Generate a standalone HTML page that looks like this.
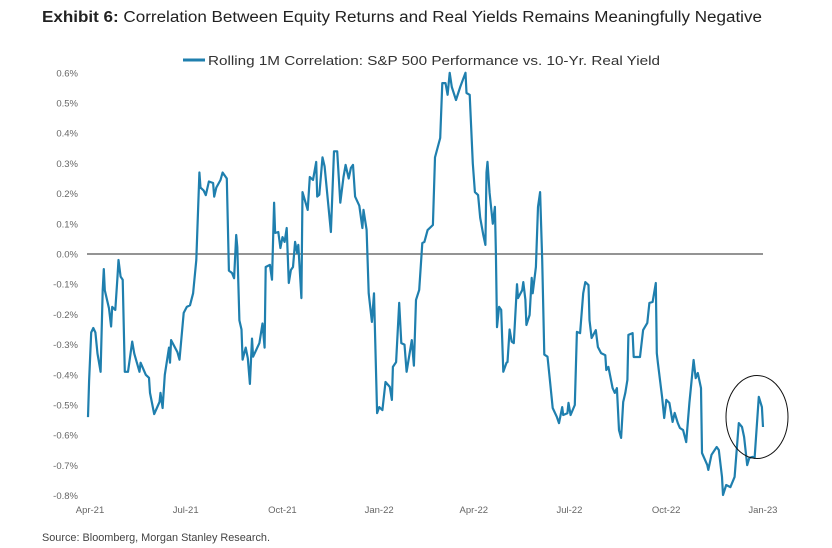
<!DOCTYPE html>
<html><head><meta charset="utf-8"><style>
html,body{margin:0;padding:0;background:#fff;}
svg{display:block;font-family:"Liberation Sans",sans-serif;}
</style></head><body>
<svg id="chart" width="832" height="548" viewBox="0 0 832 548">
<text x="42" y="22" font-size="15.5" fill="#222" textLength="720" lengthAdjust="spacingAndGlyphs"><tspan font-weight="bold">Exhibit 6:</tspan>  Correlation Between Equity Returns and Real Yields Remains Meaningfully Negative</text>
<g>
<line x1="183" y1="60" x2="205" y2="60" stroke="#1f7fae" stroke-width="3"/>
<text x="208" y="65" font-size="13" fill="#333" textLength="452" lengthAdjust="spacingAndGlyphs">Rolling 1M Correlation: S&amp;P 500 Performance vs. 10-Yr. Real Yield</text>
</g>
<g id="yaxis"></g>
<g id="xaxis"></g>
<line x1="87" y1="254" x2="763" y2="254" stroke="#555" stroke-width="1.2"/>
<path id="series" fill="none" stroke="#1f7fae" stroke-width="2.2" stroke-linejoin="round"/>
<ellipse cx="757" cy="417" rx="31" ry="41.5" fill="none" stroke="#111" stroke-width="1"/>
<text x="42" y="541" font-size="11" fill="#444" textLength="228" lengthAdjust="spacingAndGlyphs">Source: Bloomberg, Morgan Stanley Research.</text>
</svg>
<script>
const yTicks = [0.6,0.5,0.4,0.3,0.2,0.1,0.0,-0.1,-0.2,-0.3,-0.4,-0.5,-0.6,-0.7,-0.8];
const xTickLabels = ["Apr-21","Jul-21","Oct-21","Jan-22","Apr-22","Jul-22","Oct-22","Jan-23"];
const xTickDays = [0,91,183,275,365,456,548,640];
const days = [0,1,3,5,7,9,12,14,15,16,20,22,23,26,28,29,31,33,35,38,42,44,49,50,55,58,59,63,68,69,71,73,77,78,79,85,87,91,94,97,100,103,106,107,110,112,115,119,120,122,126,128,132,134,137,139,141,142,144,146,147,150,152,154,156,157,163,166,168,169,173,175,177,178,181,183,185,187,189,191,193,195,197,199,200,203,204,209,211,214,217,218,220,223,225,231,234,237,240,243,245,248,250,252,254,258,261,262,265,267,270,272,275,277,280,283,287,289,290,293,296,298,301,303,308,310,312,315,318,320,323,328,330,335,337,340,342,344,346,350,354,359,360,363,366,368,371,373,376,378,379,380,382,385,387,388,389,391,393,395,398,399,401,403,405,408,409,413,414,416,417,420,422,423,426,428,430,432,434,437,439,442,446,448,451,452,456,457,459,463,465,468,471,473,476,477,479,483,485,488,492,493,495,499,501,503,505,507,509,511,513,514,518,519,525,528,532,534,537,540,541,542,546,548,550,553,556,558,561,563,566,569,572,576,578,580,583,584,589,590,593,598,600,603,604,607,611,615,619,622,624,627,629,632,634,638,641,642];
const values = [-0.54,-0.42,-0.26,-0.245,-0.26,-0.33,-0.39,-0.12,-0.05,-0.12,-0.18,-0.24,-0.175,-0.185,-0.08,-0.02,-0.075,-0.085,-0.39,-0.39,-0.29,-0.33,-0.39,-0.36,-0.40,-0.41,-0.46,-0.53,-0.49,-0.46,-0.51,-0.40,-0.31,-0.36,-0.285,-0.325,-0.35,-0.195,-0.175,-0.17,-0.13,-0.02,0.27,0.22,0.21,0.195,0.24,0.235,0.19,0.22,0.245,0.27,0.25,-0.055,-0.063,-0.08,0.063,0.023,-0.22,-0.25,-0.35,-0.31,-0.345,-0.43,-0.28,-0.34,-0.295,-0.23,-0.31,-0.043,-0.036,-0.085,0.17,0.07,0.073,0.02,0.056,0.04,0.086,-0.096,-0.053,-0.043,0.04,0.003,0.03,-0.146,0.205,0.146,0.255,0.245,0.305,0.19,0.196,0.32,0.29,0.073,0.34,0.34,0.17,0.255,0.295,0.25,0.285,0.295,0.19,0.16,0.086,0.146,0.08,-0.13,-0.225,-0.13,-0.527,-0.507,-0.517,-0.424,-0.44,-0.483,-0.374,-0.358,-0.162,-0.295,-0.30,-0.39,-0.285,-0.37,-0.152,-0.119,0.036,0.04,0.079,0.096,0.32,0.384,0.566,0.566,0.527,0.60,0.553,0.51,0.553,0.60,0.533,0.527,0.30,0.205,0.195,0.12,0.063,0.03,0.27,0.305,0.202,0.10,0.156,0.003,-0.242,-0.175,-0.185,-0.39,-0.36,-0.358,-0.25,-0.29,-0.295,-0.10,-0.146,-0.12,-0.093,-0.152,-0.235,-0.202,-0.079,-0.13,-0.043,0.156,0.205,-0.02,-0.333,-0.34,-0.408,-0.51,-0.54,-0.56,-0.507,-0.533,-0.527,-0.493,-0.533,-0.50,-0.258,-0.262,-0.13,-0.093,-0.103,-0.219,-0.278,-0.252,-0.308,-0.328,-0.335,-0.384,-0.374,-0.444,-0.46,-0.444,-0.583,-0.609,-0.49,-0.46,-0.417,-0.268,-0.262,-0.341,-0.341,-0.252,-0.228,-0.162,-0.159,-0.096,-0.328,-0.361,-0.474,-0.543,-0.483,-0.493,-0.556,-0.526,-0.56,-0.576,-0.583,-0.623,-0.493,-0.351,-0.411,-0.394,-0.444,-0.659,-0.699,-0.715,-0.665,-0.639,-0.649,-0.738,-0.798,-0.765,-0.772,-0.738,-0.56,-0.573,-0.606,-0.699,-0.675,-0.672,-0.675,-0.473,-0.507,-0.573];

const NS = "http://www.w3.org/2000/svg";
const X0 = 88, X1 = 763, DMAX = 642;
const Y0 = 254, PX_PER_UNIT = 302;
function xScale(d){ return X0 + d * (X1 - X0) / DMAX; }
function yScale(v){ return Y0 - v * PX_PER_UNIT; }

const yg = document.getElementById('yaxis');
yTicks.forEach(v => {
  const t = document.createElementNS(NS, 'text');
  
  
  t.setAttribute('x', 78);
  t.setAttribute('y', yScale(v) + 3.5);
  t.setAttribute('text-anchor', 'end');
  t.setAttribute('font-size', '9.5');
  t.setAttribute('fill', '#666');
  t.textContent = (Math.abs(v) < 1e-9 ? 0 : v).toFixed(1) + '%';
  yg.appendChild(t);
});

const xg = document.getElementById('xaxis');
xTickLabels.forEach((lab, i) => {
  const t = document.createElementNS(NS, 'text');
  
  
  t.setAttribute('x', xScale(xTickDays[i]) + 2);
  t.setAttribute('y', 513);
  t.setAttribute('text-anchor', 'middle');
  t.setAttribute('font-size', '9.5');
  t.setAttribute('fill', '#666');
  t.textContent = lab;
  xg.appendChild(t);
});

let d = '';
days.forEach((day, i) => {
  d += (i ? 'L' : 'M') + xScale(day).toFixed(1) + ' ' + yScale(values[i]).toFixed(1);
});
document.getElementById('series').setAttribute('d', d);
</script>
</body></html>
